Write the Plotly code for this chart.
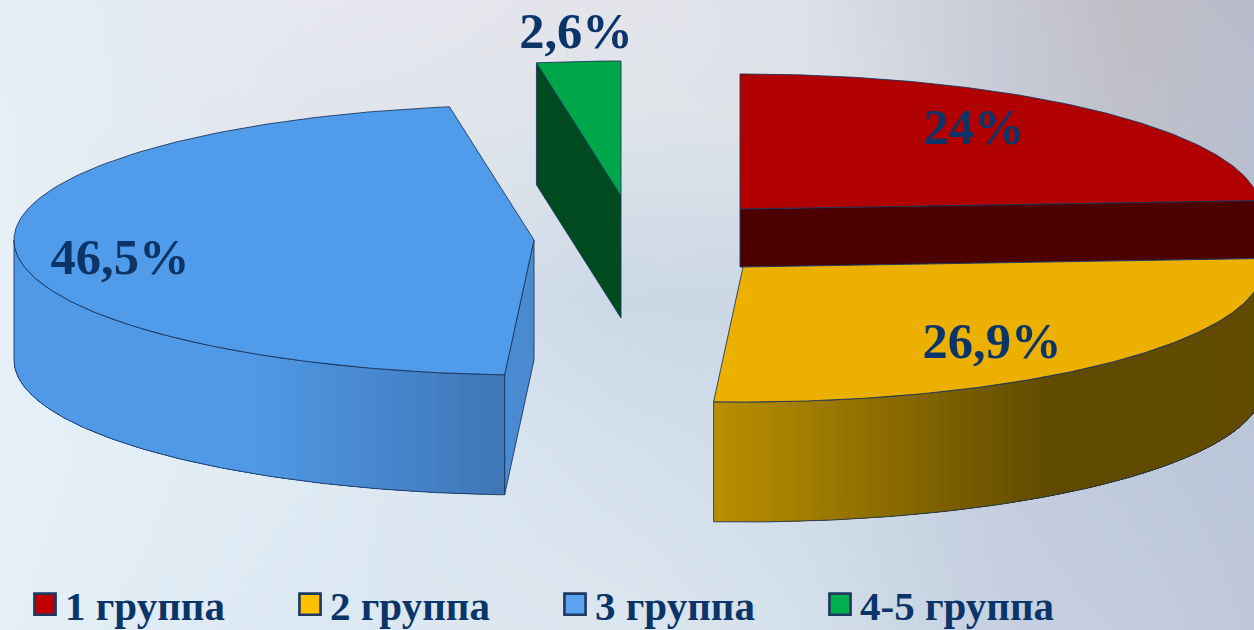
import base64, struct, zlib
import numpy as np
import plotly.graph_objects as go

# ---- data ----
CATEGORIES = ["1 группа", "2 группа", "3 группа", "4-5 группа"]
SHARES = [24.0, 26.9, 46.5, 2.6]
LABELS = ["24%", "26,9%", "46,5%", "2,6%"]

# ---- style ----
W, H = 1254, 630
TEXT = "#0b3569"
EDGE = "rgba(25,50,90,0.85)"
TOP = ["#b00000", "#ecb100", "#519cea", "#00a64a"]
CUT = ["#4d0000", None, "#4a8ad0", "#004a20"]
KEY = ["#c00000", "#ffc000", "#5ba3ee", "#00b050"]
WALL = [None, (("#b98f00", 0.0), ("#5f4a00", 0.62), ("#614b00", 1.0)), (("#5099e6", 0.0), ("#5099e6", 0.48), ("#3f76b6", 1.0)), None]
CENTER = [(740, 209), (743, 267), (534, 240), (621, 196)]
DEPTH = [58, 120, 120, 122]
RX, RY = 520, 135
LABEL_OFFSET = [(234, -78), (249, 78), (-414, 21), (-45, -161)]
BG_X = [0, 313, 627, 800, 1000, 1130, 1254]
BG_Y = [0, 110, 300, 450, 630]
BG = [
    ["#e4edf6", "#e7e8ef", "#e3e4ea", "#dde1e8", "#c8cad6", "#bebdc3", "#b9bccd"],
    ["#e6eff5", "#e2e5ec", "#dfe4e9", "#dfe3e8", "#c8ccd8", "#bfc0c8", "#b8bdcf"],
    ["#e6eff6", "#dbe6ef", "#cbd8e6", "#ccd7e5", "#c5cfde", "#bcc4d6", "#b8c0d2"],
    ["#e6f0f8", "#dfeaf3", "#d4e0eb", "#cfdce8", "#c3cddf", "#bfc9dc", "#bcc6da"],
    ["#e4eff7", "#dce8f2", "#dce6ef", "#d4e0ea", "#c6d0e0", "#c3cddf", "#bfc8da"],
]


def rgb(h):
    return np.array([int(h[i:i + 2], 16) for i in (1, 3, 5)], float)


def background_uri():
    cols = np.array([[rgb(c) for c in row] for row in BG])
    xs, ys = np.arange(0, W, 2), np.arange(0, H, 2)
    out = np.zeros((len(ys), len(xs), 3))
    for c in range(3):
        by_x = np.array([np.interp(xs, BG_X, cols[j, :, c]) for j in range(len(BG_Y))])
        out[:, :, c] = np.array([np.interp(ys, BG_Y, by_x[:, i]) for i in range(len(xs))]).T
    img = out.round().astype(np.uint8)
    raw = b"".join(b"\0" + row.tobytes() for row in img)

    def chunk(t, d):
        return struct.pack(">I", len(d)) + t + d + struct.pack(">I", zlib.crc32(t + d))

    png = (b"\x89PNG\r\n\x1a\n"
           + chunk(b"IHDR", struct.pack(">IIBBBBB", img.shape[1], img.shape[0], 8, 2, 0, 0, 0))
           + chunk(b"IDAT", zlib.compress(raw, 9)) + chunk(b"IEND", b""))
    return "data:image/png;base64," + base64.b64encode(png).decode()


def pt(i, deg, drop=0.0):
    t = np.radians(deg)
    return CENTER[i][0] + RX * np.sin(t), CENTER[i][1] - RY * np.cos(t) + drop


def poly(xs, ys, fill, line=None):
    return go.Scatter(x=list(xs), y=list(ys), mode="lines", fill="toself", fillcolor=fill,
                      line=dict(color=line or fill, width=1 if line else 0),
                      showlegend=False, hoverinfo="skip")


def mix(stops, f):
    fs = [s[1] for s in stops]
    c = [np.interp(f, fs, [rgb(s[0])[k] for s in stops]) for k in range(3)]
    return "rgb(%d,%d,%d)" % tuple(round(v) for v in c)


def wall(fig, i, a, b, stops, n=70):
    # each strip runs on to the far end of the wall, so the next one overlaps it and no seam shows
    edges = np.linspace(a, b, n + 1)
    x_all = [pt(i, d)[0] for d in edges]
    lo, hi = min(x_all), max(x_all)
    for s, e in zip(edges[:-1], edges[1:]):
        arc = np.linspace(s, b, 60)
        xt, yt = pt(i, arc)
        xb, yb = pt(i, arc[::-1], DEPTH[i])
        f = (0.5 * (pt(i, s)[0] + pt(i, e)[0]) - lo) / (hi - lo)
        fig.add_trace(poly(np.r_[xt, xb, xt[0]], np.r_[yt, yb, yt[0]], mix(stops, f)))
    arc = np.linspace(a, b, 120)
    xt, yt = pt(i, arc)
    xb, yb = pt(i, arc[::-1], DEPTH[i])
    fig.add_trace(go.Scatter(x=np.r_[xt, xb, xt[0]], y=np.r_[yt, yb, yt[0]], mode="lines",
                             line=dict(color=EDGE, width=1), showlegend=False, hoverinfo="skip"))


def top_face(fig, i, a, b):
    arc = np.linspace(a, b, 160)
    xt, yt = pt(i, arc)
    cx, cy = CENTER[i]
    fig.add_trace(poly(np.r_[cx, xt, cx], np.r_[cy, yt, cy], TOP[i], EDGE))


def cut_face(fig, i, deg):
    cx, cy = CENTER[i]
    ex, ey = pt(i, deg)
    d = DEPTH[i]
    fig.add_trace(poly([cx, ex, ex, cx, cx], [cy, ey, ey + d, cy + d, cy], CUT[i], EDGE))


# slice angles, clockwise from the top
cum = np.cumsum([0] + SHARES) * 3.6
start, end = cum[:-1], cum[1:]

fig = go.Figure()
# green
cut_face(fig, 3, start[3])
top_face(fig, 3, start[3], end[3])
# blue
cut_face(fig, 2, start[2])
wall(fig, 2, start[2], 270, WALL[2])
top_face(fig, 2, start[2], end[2])
# red
cut_face(fig, 0, end[0])
top_face(fig, 0, start[0], end[0])
# yellow
wall(fig, 1, end[1], 90, WALL[1])
top_face(fig, 1, start[1], end[1])

# percentage labels
fig.add_trace(go.Scatter(
    x=[c[0] + o[0] for c, o in zip(CENTER, LABEL_OFFSET)],
    y=[c[1] + o[1] for c, o in zip(CENTER, LABEL_OFFSET)],
    text=LABELS, mode="text", textposition="middle center",
    textfont=dict(family="Liberation Serif", size=50.5, color=TEXT, weight="bold"),
    showlegend=False, hoverinfo="skip"))

# legend keys
for name, col in zip(CATEGORIES, KEY):
    fig.add_trace(go.Scatter(x=[None], y=[None], mode="markers", name=name,
                             marker=dict(symbol="square", size=16, color=col,
                                         line=dict(color="#1f3864", width=2))))

fig.update_layout(
    width=W, height=H, autosize=False,
    margin=dict(l=0, r=0, t=0, b=0, autoexpand=False),
    paper_bgcolor="#dfe8f1", plot_bgcolor="rgba(0,0,0,0)",
    xaxis=dict(range=[0, W], visible=False, fixedrange=True),
    yaxis=dict(range=[H, 0], visible=False, fixedrange=True),
    images=[dict(source=background_uri(), xref="paper", yref="paper", x=0, y=1, sizex=1, sizey=1,
                 sizing="stretch", xanchor="left", yanchor="top", layer="below")],
    legend=dict(orientation="h", x=25 / W, xanchor="left", y=-8 / H, yanchor="bottom",
                entrywidth=220, entrywidthmode="pixels", itemwidth=30,
                bgcolor="rgba(0,0,0,0)", borderwidth=0,
                font=dict(family="Liberation Serif", size=41, color=TEXT, weight="bold")),
)
POST = """
document.body.style.margin = '0';
document.documentElement.style.overflow = 'hidden';
document.querySelectorAll('.legend .legendpoints path').forEach(function (p) {
  var t = p.getAttribute('transform') || '';
  p.setAttribute('transform', t + ' scale(1.32)');
});
"""
fig.write_html("out.html", config=dict(displayModeBar=False), post_script=POST)
